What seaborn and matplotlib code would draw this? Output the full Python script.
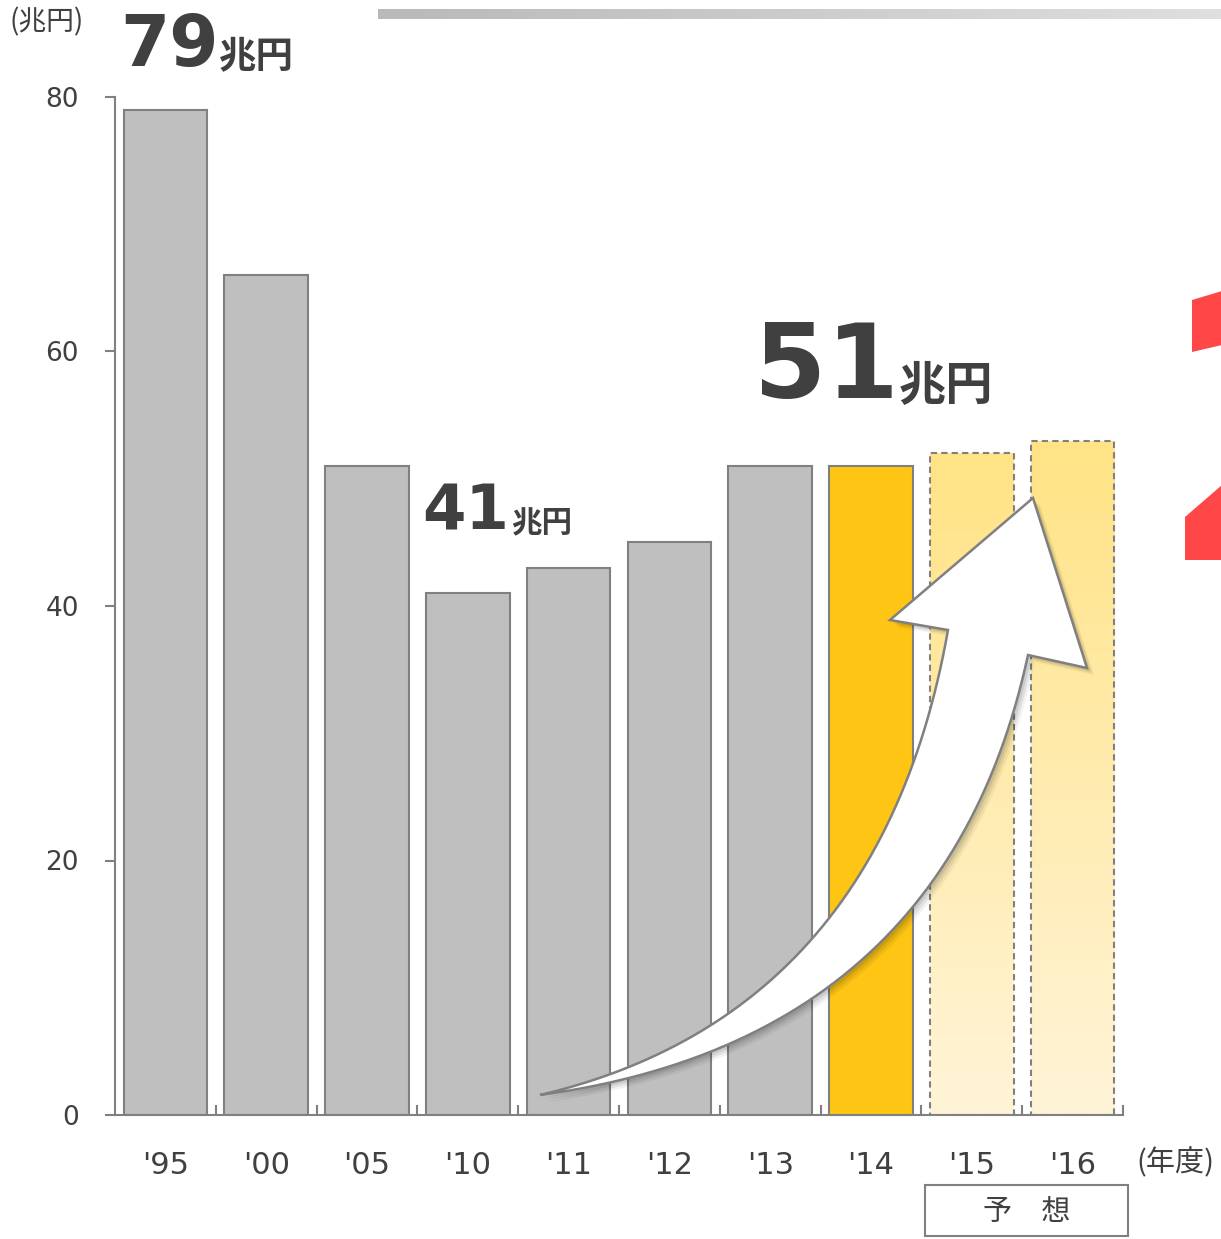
import numpy as np
import matplotlib
matplotlib.use("Agg")
import matplotlib.pyplot as plt
import seaborn as sns
from matplotlib.patches import Polygon, Rectangle

# data
years = ["'95", "'00", "'05", "'10", "'11", "'12", "'13", "'14", "'15", "'16"]
values = [79, 66, 51, 41, 43, 45, 51, 51, 52, 53]
bar_colors = ["#bfbfbf"] * 7 + ["#fec515", "#ffe48a", "#ffe48a"]
forecast = [False] * 8 + [True, True]
yticks = [0, 20, 40, 60, 80]

W, H = 1221, 1239
DARK = "#404040"
EDGE = "#808080"
CJK = ["Noto Sans CJK JP", "DejaVu Sans"]

sns.set_theme(style="white")
plt.rcParams["font.family"] = ["DejaVu Sans", "Noto Sans CJK JP"]


def fxy(px, py):
    """pixel (from top-left) -> figure fraction"""
    return px / W, 1 - py / H


fig = plt.figure(figsize=(W / 100, H / 100), dpi=100)
ax = fig.add_axes([115 / W, 1 - 1115 / H, (1123 - 115) / W, (1115 - 97) / H])

sns.barplot(x=years, y=values, hue=years, palette=bar_colors, legend=False,
            width=0.83, ax=ax, saturation=1)

fc_cmap = matplotlib.colors.LinearSegmentedColormap.from_list(
    "fc", ["#fff4d8", "#ffe385"])
for patch, is_fc in zip(ax.patches, forecast):
    patch.set_edgecolor(EDGE)
    patch.set_linewidth(1.5)
    patch.set_zorder(2)
    if is_fc:
        patch.set_linestyle((0, (3, 2)))
        patch.set_facecolor("none")
        x0, y0 = patch.get_x(), patch.get_y()
        w, h = patch.get_width(), patch.get_height()
        grad = np.linspace(0, 1, 256).reshape(-1, 1)
        im = ax.imshow(grad, extent=[x0, x0 + w, y0, y0 + h], origin="lower",
                       cmap=fc_cmap, aspect="auto", zorder=1.5)
        im.set_clip_path(patch)

ax.set_xlim(-0.5, len(years) - 0.5)
ax.set_ylim(0, 80)
ax.set_yticks(yticks)
ax.set_xlabel("")
ax.set_ylabel("")

for side in ["top", "right"]:
    ax.spines[side].set_visible(False)
for side in ["left", "bottom"]:
    ax.spines[side].set_color(EDGE)
    ax.spines[side].set_linewidth(1.5)

ax.tick_params(axis="y", direction="out", length=7, width=1.5, color=EDGE,
               labelsize=19, labelcolor=DARK, pad=19, left=True)
ax.tick_params(axis="x", which="major", length=0, labelsize=22,
               labelcolor=DARK, pad=26)
ax.set_xticks(np.arange(len(years)) + 0.5, minor=True)
ax.tick_params(axis="x", which="minor", direction="in", length=7, width=1.5,
               color=EDGE, bottom=True)
ax.set_xticklabels(years)


# curved arrow (decoration)
def bez(p0, c, p2, n=60):
    t = np.linspace(0, 1, n)[:, None]
    return (1 - t) ** 2 * np.array(p0) + 2 * t * (1 - t) * np.array(c) + t ** 2 * np.array(p2)


tail = (540, 1095)
top_edge = bez(tail, (880, 1015), (948, 630))
head = np.array([(890, 620), (1033, 498), (1087, 668)])
bot_edge = bez((1028, 655), (945, 1040), tail)
arrow_px = np.vstack([top_edge, head, bot_edge])


def to_fig(pts, dx=0, dy=0):
    return np.array([fxy(x + dx, y + dy) for x, y in pts])


for off, a in [(7, 0.05), (5, 0.07), (3, 0.09)]:
    ax.add_patch(Polygon(to_fig(arrow_px, off, off), closed=True,
                         transform=fig.transFigure, facecolor="#000000",
                         alpha=a, edgecolor="none", zorder=4, clip_on=False))
ax.add_patch(Polygon(to_fig(arrow_px), closed=True, transform=fig.transFigure,
                     facecolor="white", edgecolor=EDGE, linewidth=1.8, zorder=5,
                     clip_on=False, joinstyle="miter"))

# top gradient strip
strip = fig.add_axes([378 / W, 1 - 19 / H, (W - 378) / W, 10 / H])
strip.imshow(np.linspace(0, 1, 256).reshape(1, -1), aspect="auto",
             cmap=matplotlib.colors.LinearSegmentedColormap.from_list(
                 "g", ["#b9b9b9", "#dfdfdf"]))
strip.axis("off")

# red shapes at right edge
for pts in ([(1192, 300), (1222, 291), (1222, 345), (1192, 352)],
            [(1185, 517), (1222, 485), (1222, 560), (1185, 560)]):
    fig.patches.append(Polygon(to_fig(pts), closed=True, transform=fig.transFigure,
                               facecolor="#ff4747", edgecolor="none"))

# texts
fig.text(*fxy(10, 22), "(兆円)", fontsize=20, color=DARK, va="center", ha="left",
         family=CJK)
fig.text(*fxy(1136, 1163), "(年度)", fontsize=21, color=DARK, va="center",
         ha="left", family=CJK)


def big_label(px, py, num, size_num, size_unit, gap):
    t = fig.text(*fxy(px, py), num, fontsize=size_num, fontweight="bold",
                 color=DARK, ha="left", va="baseline")
    fig.canvas.draw()
    bb = t.get_window_extent()
    fig.text((bb.x1 + gap) / W, 1 - (py + 2) / H, "兆円", fontsize=size_unit,
             fontweight="bold", color=DARK, ha="left", va="baseline", family=CJK)


big_label(120, 66, "79", 51, 27, 0)
big_label(754, 398, "51", 75, 34, 0)
big_label(422, 530, "41", 45, 22, 2)

# forecast box
fig.patches.append(Rectangle(fxy(925, 1236), 203 / W, 51 / H, transform=fig.transFigure,
                             facecolor="white", edgecolor=EDGE, linewidth=1.5))
fig.text(*fxy(1027, 1212), "予　想", fontsize=21, color=DARK, ha="center",
         va="center", family=CJK)

fig.savefig("out.png", dpi=100)
